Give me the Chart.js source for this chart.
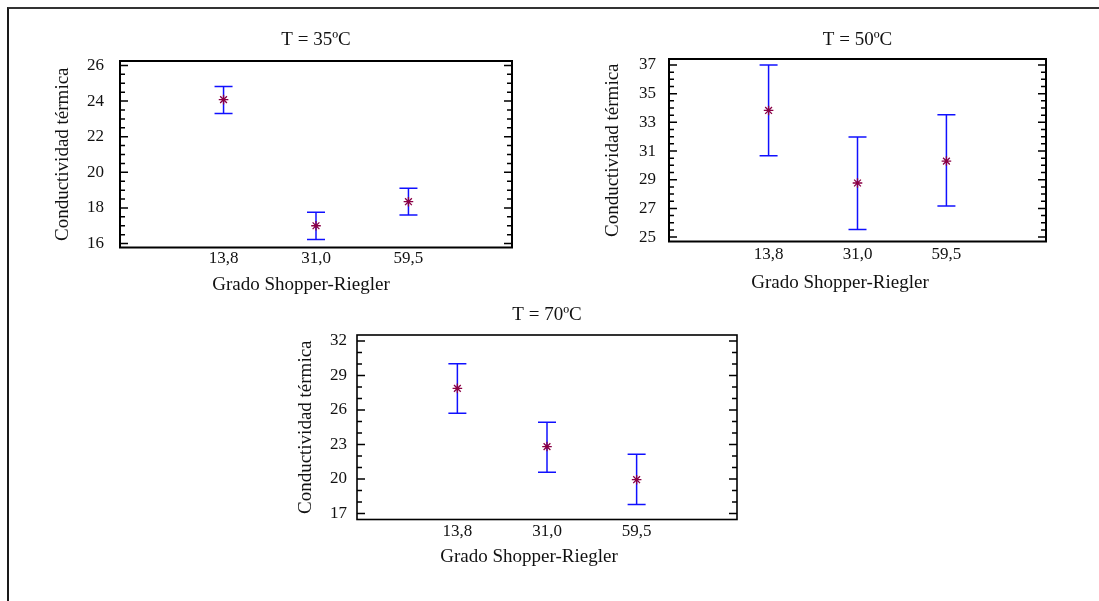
<!DOCTYPE html>
<html lang="es">
<head>
<meta charset="utf-8">
<title>Conductividad térmica vs Grado Shopper-Riegler</title>
<script src="https://cdn.jsdelivr.net/npm/chart.js@4.4.1/dist/chart.umd.min.js"></script>
<style>
  html, body { margin: 0; padding: 0; background: #fff; }
  body { width: 1099px; height: 601px; position: relative; overflow: hidden; }
  #marco { position: absolute; left: 7px; top: 7px; right: -10px; bottom: -10px;
           border-left: 2px solid #1a1a1a; border-top: 2px solid #333; }
  canvas { position: absolute; }
</style>
</head>
<body>
<div id="marco"></div>
<canvas id="g35"></canvas>
<canvas id="g50"></canvas>
<canvas id="g70"></canvas>
<script>
// Categorías del eje X (grado Shopper-Riegler)
const grados = ['13,8', '31,0', '59,5'];

// T = 35ºC: media e intervalo
const media35 = [24.08, 17.0, 18.35];
const inf35 = [23.3, 16.23, 17.6];
const sup35 = [24.82, 17.76, 19.1];
const ticks35 = [16, 18, 20, 22, 24, 26];

// T = 50ºC
const media50 = [33.83, 28.77, 30.3];
const inf50 = [30.67, 25.53, 27.16];
const sup50 = [37.0, 31.98, 33.53];
const ticks50 = [25, 27, 29, 31, 33, 35, 37];

// T = 70ºC
const media70 = [27.88, 22.82, 19.94];
const inf70 = [25.72, 20.58, 17.79];
const sup70 = [30.02, 24.94, 22.15];
const ticks70 = [17, 20, 23, 26, 29, 32];

const azul = '#1010ff';
const granate = '#8a0045';

Chart.defaults.font.family = "'Liberation Serif', 'Times New Roman', serif";
Chart.defaults.color = '#111';

// Caja del gráfico + marcas hacia dentro en ambos lados
const marcoCaja = {
  id: 'marcoCaja',
  beforeDatasetsDraw(chart, args, opts) {
    const { ctx, chartArea: a } = chart;
    const y = chart.scales.y;
    ctx.save();
    ctx.strokeStyle = '#000';
    ctx.lineWidth = opts.grosor;
    ctx.strokeRect(a.left, a.top, a.right - a.left, a.bottom - a.top);
    ctx.lineWidth = 1.5;
    y.ticks.forEach(t => {
      const py = y.getPixelForValue(t.value);
      const mayor = opts.mayores.some(m => Math.abs(m - t.value) < 1e-6);
      const largo = mayor ? 8 : 5;
      ctx.beginPath();
      ctx.moveTo(a.left, py); ctx.lineTo(a.left + largo, py);
      ctx.moveTo(a.right, py); ctx.lineTo(a.right - largo, py);
      ctx.stroke();
    });
    ctx.restore();
  }
};

const graficos = [
  { id: 'g35', titulo: 'T = 35ºC', media: media35, inf: inf35, sup: sup35, mayores: ticks35, paso: 0.5,
    yMin: 15.78, yMax: 26.25, caja: { l: 120, r: 512, t: 61, b: 247 },
    tituloY: 40, ejeXTituloX: 301, ejeXTituloY: 285, ejeYTituloX: 63, etiquetasXY: 258, padY: 16, grosor: 2 },
  { id: 'g50', titulo: 'T = 50ºC', media: media50, inf: inf50, sup: sup50, mayores: ticks50, paso: 0.5,
    yMin: 24.69, yMax: 37.42, caja: { l: 669, r: 1046, t: 59, b: 241 },
    tituloY: 40, ejeXTituloX: 840, ejeXTituloY: 283, ejeYTituloX: 613, etiquetasXY: 254, padY: 13, grosor: 2 },
  { id: 'g70', titulo: 'T = 70ºC', media: media70, inf: inf70, sup: sup70, mayores: ticks70, paso: 1,
    yMin: 16.48, yMax: 32.52, caja: { l: 357, r: 737, t: 335, b: 519 },
    tituloY: 315, ejeXTituloX: 529, ejeXTituloY: 557, ejeYTituloX: 306, etiquetasXY: 531, padY: 10, grosor: 1.6 }
];

function crearGrafico(g) {
  const canvas = document.getElementById(g.id);
  const izq = Math.round(g.ejeYTituloX - 11.5);
  const arriba = Math.round(g.tituloY - 9.5 - 6);
  const ancho = Math.round(2 * (g.ejeXTituloX - izq));
  const alto = Math.round(g.ejeXTituloY + 13.5 - arriba);
  canvas.width = ancho;
  canvas.height = alto;
  canvas.style.left = izq + 'px';
  canvas.style.top = arriba + 'px';

  // Barras de error (línea vertical con remates horizontales)
  const barras = grados.map((_, i) => ({
    data: [{ x: i, y: g.inf[i] }, { x: i, y: g.sup[i] }],
    showLine: true,
    borderColor: azul,
    borderWidth: 1.5,
    pointStyle: 'line',
    pointRadius: 9,
    pointBorderColor: azul,
    pointBorderWidth: 1.5
  }));

  const medias = {
    data: g.media.map((m, i) => ({ x: i, y: m })),
    pointStyle: 'star',
    pointRadius: 4.8,
    pointBorderColor: granate,
    pointBackgroundColor: granate,
    pointBorderWidth: 1.3
  };

  new Chart(canvas, {
    type: 'scatter',
    data: { datasets: [medias, ...barras] },
    options: {
      responsive: false,
      animation: false,
      events: [],
      layout: { padding: 0 },
      plugins: {
        legend: { display: false },
        tooltip: { enabled: false },
        title: {
          display: true, text: g.titulo, position: 'top', fullSize: false,
          font: { size: 19, weight: 'normal', lineHeight: 1 },
          padding: { top: g.tituloY - 9.5 - arriba, bottom: g.caja.t - g.tituloY - 9.5 }
        },
        subtitle: {
          display: true, text: 'Grado Shopper-Riegler', position: 'bottom', fullSize: true,
          font: { size: 19, weight: 'normal', lineHeight: 1 },
          padding: { top: 0, bottom: 4 }
        },
        marcoCaja: { grosor: g.grosor, mayores: g.mayores }
      },
      scales: {
        x: {
          type: 'linear', min: -1.12, max: 3.12,
          afterBuildTicks: s => { s.ticks = grados.map((_, i) => ({ value: i })); },
          ticks: {
            callback: v => grados[v], padding: g.etiquetasXY - g.caja.b - 8.5,
            font: { size: 17, lineHeight: 1 }, maxRotation: 0, autoSkip: false
          },
          grid: { display: false, drawTicks: false },
          border: { display: false },
          afterFit: s => { s.height = g.ejeXTituloY - 9.5 - g.caja.b; }
        },
        y: {
          type: 'linear', position: 'left', min: g.yMin, max: g.yMax,
          afterBuildTicks: s => {
            const t = [];
            for (let v = Math.ceil(g.yMin / g.paso) * g.paso; v <= g.yMax + 1e-9; v += g.paso) {
              t.push({ value: +v.toFixed(2) });
            }
            s.ticks = t;
          },
          ticks: {
            callback: v => g.mayores.some(m => Math.abs(m - v) < 1e-6) ? String(v) : '',
            padding: g.padY, font: { size: 17, lineHeight: 1 }, autoSkip: false
          },
          grid: { display: false, drawTicks: false },
          border: { display: false },
          title: {
            display: true, text: 'Conductividad térmica',
            font: { size: 19, lineHeight: 1 },
            padding: { top: g.ejeYTituloX - 9.5 - izq, bottom: 0 }
          },
          afterFit: s => { s.width = g.caja.l - izq; }
        },
        yDer: {
          type: 'linear', position: 'right', display: true,
          ticks: { display: false },
          grid: { display: false, drawTicks: false },
          border: { display: false },
          afterFit: s => { s.width = izq + ancho - g.caja.r; }
        }
      }
    },
    plugins: [marcoCaja]
  });
}

graficos.forEach(crearGrafico);
</script>
</body>
</html>
